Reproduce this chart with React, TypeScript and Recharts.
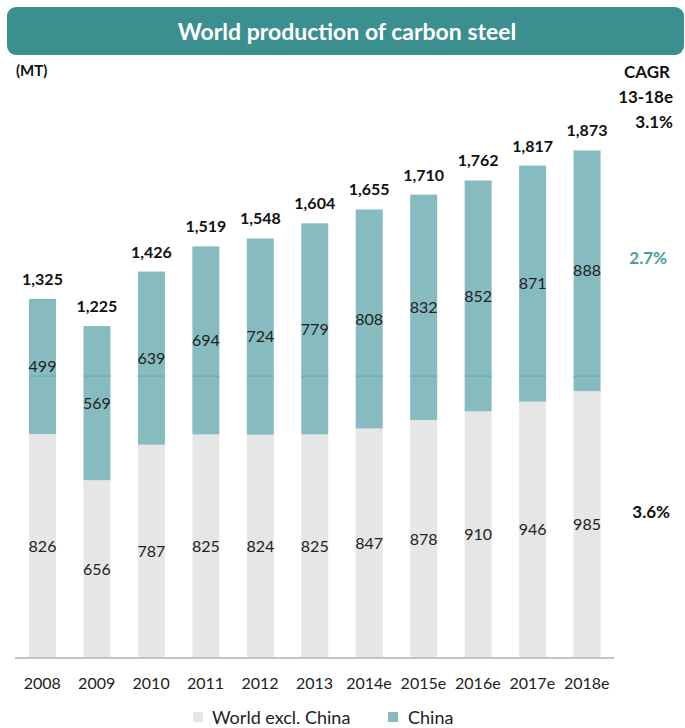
import { BarChart, Bar, XAxis, YAxis, LabelList, Legend } from "recharts";

// World production of carbon steel, million tonnes
const years = ["2008", "2009", "2010", "2011", "2012", "2013", "2014e", "2015e", "2016e", "2017e", "2018e"];
const worldExChina = [826, 656, 787, 825, 824, 825, 847, 878, 910, 946, 985];
const china = [499, 569, 639, 694, 724, 779, 808, 832, 852, 871, 888];
const totals = [1325, 1225, 1426, 1519, 1548, 1604, 1655, 1710, 1762, 1817, 1873];
// faint horizontal rule that runs through the China segments in the source
const ruleValue = 1040;

const data = years.map((year, i) => ({
  year,
  world: worldExChina[i],
  china: china[i],
  total: totals[i],
}));

const FONT = "Lato, 'Open Sans', sans-serif";
const TEAL_DARK = "#3c8f8f";
const TEAL = "#86bcc0";
const GREY = "#e6e6e6";

const fmt = (v: any) => Number(v).toLocaleString("en-US");

// China segment, plus the thin darker rule crossing it
const ChinaShape = (props: any) => {
  const { x, y, width, height, payload, fill } = props;
  const perUnit = height / payload.china;
  const base = y + height + payload.world * perUnit;
  const ruleY = base - ruleValue * perUnit;
  return (
    <g>
      <rect x={x} y={y} width={width} height={height} fill={fill} />
      {ruleY > y && ruleY < y + height && (
        <line x1={x} x2={x + width} y1={ruleY} y2={ruleY} stroke="#72aeb2" strokeWidth={1.5} />
      )}
    </g>
  );
};

const renderLegend = () => (
  <div style={{ position: "relative", height: 22, fontSize: 18, color: "#222", fontFamily: FONT }}>
    <span style={{ position: "absolute", left: 193, top: 6, width: 10, height: 10, background: GREY }} />
    <span style={{ position: "absolute", left: 212, top: 0, lineHeight: "22px" }}>World excl. China</span>
    <span style={{ position: "absolute", left: 388, top: 6, width: 10, height: 10, background: TEAL }} />
    <span style={{ position: "absolute", left: 408, top: 0, lineHeight: "22px" }}>China</span>
  </div>
);

export default function App() {
  return (
    <div style={{ position: "absolute", left: 0, top: 0, width: 685, height: 728, background: "#fff", fontFamily: FONT }}>
      <BarChart
        width={685}
        height={728}
        data={data}
        margin={{ top: 116, right: 71, left: 15, bottom: 40 }}
        barSize={27}
      >
        <XAxis
          dataKey="year"
          height={30}
          tickLine={false}
          tickMargin={14}
          axisLine={{ stroke: "#c4c4c4", strokeWidth: 2 }}
          tick={{ fontSize: 16, fill: "#222", fontFamily: FONT }}
          interval={0}
        />
        <YAxis hide domain={[0, 2000]} />
        <Legend
          layout="horizontal"
          verticalAlign="middle"
          align="center"
          content={renderLegend}
          wrapperStyle={{ top: 706, left: 0, width: 685 }}
        />
        <Bar dataKey="world" stackId="a" fill={GREY} isAnimationActive={false}>
          <LabelList dataKey="world" position="center" style={{ fontSize: 16, fill: "#222", fontFamily: FONT }} />
        </Bar>
        <Bar dataKey="china" stackId="a" fill={TEAL} shape={ChinaShape} isAnimationActive={false}>
          <LabelList dataKey="china" position="center" style={{ fontSize: 16, fill: "#222", fontFamily: FONT }} />
          <LabelList
            dataKey="total"
            position="top"
            offset={14}
            formatter={fmt}
            style={{ fontSize: 16, fontWeight: 700, fill: "#111", fontFamily: FONT }}
          />
        </Bar>
      </BarChart>

      <svg
        width={685}
        height={728}
        style={{ position: "absolute", left: 0, top: 0, pointerEvents: "none" }}
        fontFamily={FONT}
      >
        <rect x={7} y={7} width={677} height={48} rx={9} fill={TEAL_DARK} />
        <text x={347} y={40} textAnchor="middle" fill="#fff" fontSize={23} fontWeight={700}>
          World production of carbon steel
        </text>
        <text x={16} y={76} fontSize={15} fontWeight={700} fill="#111">(MT)</text>
        <text x={670} y={78} textAnchor="end" fontSize={17} fontWeight={700} fill="#111">CAGR</text>
        <text x={673} y={103} textAnchor="end" fontSize={17} fontWeight={700} fill="#111">13-18e</text>
        <text x={673} y={128} textAnchor="end" fontSize={17} fontWeight={700} fill="#111">3.1%</text>
        <text x={667} y={264} textAnchor="end" fontSize={17} fontWeight={700} fill="#4a9c9e">2.7%</text>
        <text x={670} y={518} textAnchor="end" fontSize={17} fontWeight={700} fill="#111">3.6%</text>
      </svg>
    </div>
  );
}
